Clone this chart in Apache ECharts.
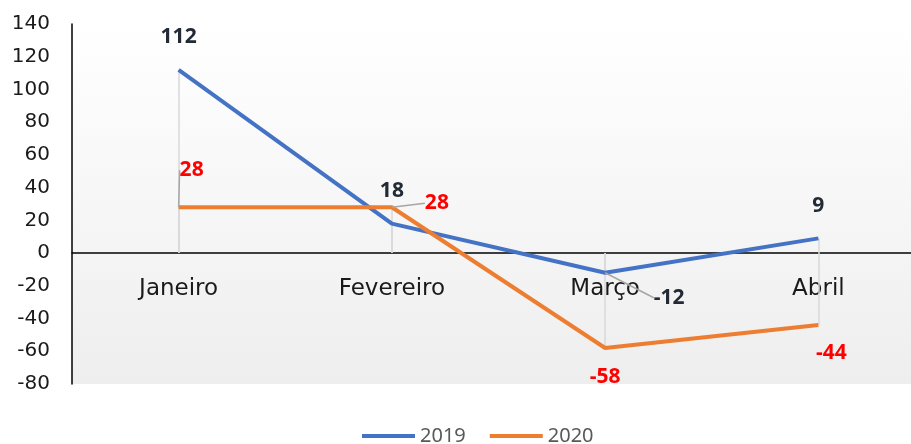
<!DOCTYPE html>
<html>
<head>
<meta charset="utf-8">
<script src="https://cdn.jsdelivr.net/npm/echarts@6/dist/echarts.min.js"></script>
<style>
    html, body { margin: 0; padding: 0; background: #fff; overflow: hidden; }
    /* a área do gráfico passa um pouco da borda direita, como no original */
    #main { width: 925px; height: 444px; }
</style>
</head>
<body>
<div id="main"></div>
<script>
// meses e valores
var months = ['Janeiro', 'Fevereiro', 'Março', 'Abril'];
var values2019 = [112, 18, -12, 9];
var values2020 = [28, 28, -58, -44];
var yTicks = { min: -80, max: 140, step: 20 };

// deslocamento dos rótulos (dx, dy) e se tem linha guia
var offsets2019 = [[0, -33], [0, -33], [64, 25], [0, -32]];
var leader2019 = [false, false, true, false];
var offsets2020 = [[13, -37], [45, -4], [0, 29], [13, 28]];
var leader2020 = [true, true, false, false];

var chart = echarts.init(document.getElementById('main'));

var gridTop = 24, gridBottom = 60, chartH = 444;
var plotH = chartH - gridTop - gridBottom;
var zeroOffset = -(plotH * (0 - yTicks.min) / (yTicks.max - yTicks.min));

// linhas verticais do ponto até o eixo
function dropLines(vals) {
    return vals.map(function (v, i) {
        return [{ coord: [i, v] }, { coord: [i, 0] }];
    });
}

function makeSeries(name, vals, color, labelColor, offs, leaders) {
    return {
        name: name,
        type: 'line',
        data: vals.map(function (v, i) {
            return { value: v, labelLine: { show: leaders[i] } };
        }),
        symbol: 'circle',
        symbolSize: 0,
        showSymbol: true,
        lineStyle: { color: color, width: 4 },
        itemStyle: { color: color },
        z: 3,
        label: {
            show: true,
            position: 'inside',
            fontFamily: 'Open Sans',
            fontWeight: 'bold',
            fontSize: 21,
            color: labelColor
        },
        labelLine: {
            show: true,
            lineStyle: { color: '#a6a6a6', width: 1.5 }
        },
        labelLayout: function (p) {
            var o = offs[p.dataIndex];
            return { dx: o[0], dy: o[1] };
        },
        markLine: {
            silent: true,
            symbol: 'none',
            label: { show: false },
            lineStyle: { color: '#d9d9d9', width: 1.5, type: 'solid' },
            data: dropLines(vals),
            z: 1
        }
    };
}

var option = {
    animation: false,
    backgroundColor: '#fff',
    legend: {
        top: 421,
        left: 357,
        itemWidth: 53,
        itemHeight: 4,
        itemGap: 24,
        icon: 'rect',
        textStyle: { fontFamily: 'Noto Sans', fontSize: 20, color: '#595959' },
        data: ['2019', '2020']
    },
    grid: {
        left: 72,
        right: 0,
        top: gridTop,
        bottom: gridBottom,
        show: true,
        borderWidth: 0,
        backgroundColor: new echarts.graphic.LinearGradient(0, 0, 0, 1, [
            { offset: 0, color: '#ffffff' },
            { offset: 1, color: '#eeeeee' }
        ])
    },
    xAxis: {
        type: 'category',
        data: months,
        offset: zeroOffset,
        axisLine: { onZero: false, lineStyle: { color: '#000', width: 1.5 } },
        axisTick: { show: false },
        axisLabel: { fontFamily: 'DejaVu Sans', fontSize: 23, color: '#1a1a1a', margin: 24 },
        splitLine: { show: false }
    },
    yAxis: {
        type: 'value',
        min: yTicks.min,
        max: yTicks.max,
        interval: yTicks.step,
        axisLine: { show: true, lineStyle: { color: '#000', width: 1.5 } },
        axisTick: { show: false },
        axisLabel: { fontFamily: 'DejaVu Sans', fontSize: 20, color: '#1a1a1a', margin: 22 },
        splitLine: { show: false }
    },
    series: [
        makeSeries('2019', values2019, '#4472c4', '#222a35', offsets2019, leader2019),
        makeSeries('2020', values2020, '#ed7d31', '#ff0000', offsets2020, leader2020)
    ]
};

chart.setOption(option);
</script>
</body>
</html>
